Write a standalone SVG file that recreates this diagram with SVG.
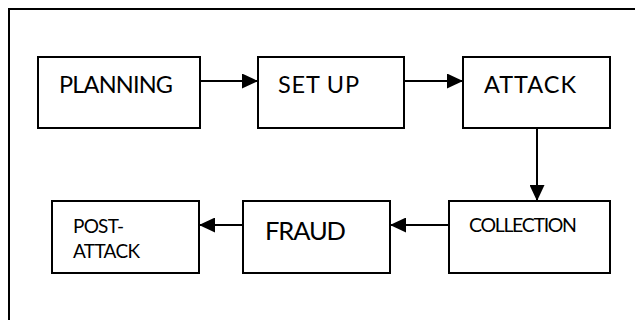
<svg xmlns="http://www.w3.org/2000/svg" width="635" height="320" viewBox="0 0 635 320">
<style>
.box{fill:#fff;stroke:#000;stroke-width:2}
.t{font-family:Lato,"Liberation Sans",sans-serif;fill:#000}
.c{stroke:#000;stroke-width:2;fill:none}
</style>
<defs>
<marker id="ah" markerWidth="16" markerHeight="15" refX="16" refY="7.5" orient="auto" markerUnits="userSpaceOnUse">
<path d="M0,0 L16,7.5 L0,15 Z" fill="#000"/>
</marker>
</defs>
<rect x="0" y="0" width="635" height="320" fill="#fff"/>
<g id="frame"><path d="M9,321 V9 H636" class="c"/></g>
<g id="planning"><rect class="box" x="38" y="57" width="162" height="71"/><text class="t" x="59" y="93" font-size="23.5" textLength="114">PLANNING</text></g>
<g id="setup"><rect class="box" x="258" y="57" width="146" height="71"/><text class="t" x="278" y="93" font-size="23.5" textLength="81">SET UP</text></g>
<g id="attack"><rect class="box" x="463" y="57" width="147" height="71"/><text class="t" x="484" y="93" font-size="23.5" textLength="92">ATTACK</text></g>
<g id="collection"><rect class="box" x="449" y="201" width="161" height="72"/><text class="t" x="469" y="232" font-size="19.5" textLength="108">COLLECTION</text></g>
<g id="fraud"><rect class="box" x="243" y="201" width="147" height="72"/><text class="t" x="265" y="240" font-size="25.5" textLength="81">FRAUD</text></g>
<g id="post-attack"><rect class="box" x="52" y="201" width="147" height="72"/><text class="t" font-size="19"><tspan x="73" y="233" textLength="51">POST-</tspan><tspan x="73" y="258" textLength="67">ATTACK</tspan></text></g>
<g id="connectors">
<line class="c" x1="200" y1="81" x2="258" y2="81" marker-end="url(#ah)"/>
<line class="c" x1="404" y1="81" x2="463" y2="81" marker-end="url(#ah)"/>
<line class="c" x1="537" y1="128" x2="537" y2="201" marker-end="url(#ah)"/>
<line class="c" x1="449" y1="225" x2="390" y2="225" marker-end="url(#ah)"/>
<line class="c" x1="243" y1="225" x2="199" y2="225" marker-end="url(#ah)"/>
</g>
</svg>
